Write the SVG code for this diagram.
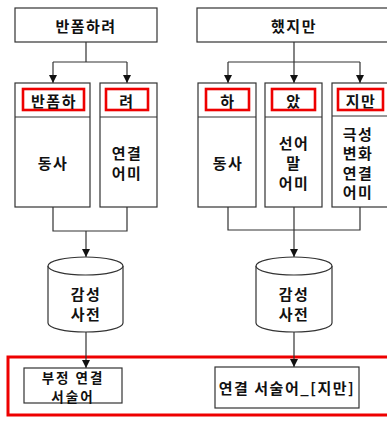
<svg xmlns="http://www.w3.org/2000/svg" width="387" height="421" viewBox="0 0 387 421">
<style>
.box{fill:#fff;stroke:#333;stroke-width:1.2}
.red{fill:none;stroke:#e00;stroke-width:2.6}
.t{font-family:"Noto Sans CJK KR","Noto Sans CJK SC",sans-serif;font-weight:bold;font-size:15px;fill:#111;text-anchor:middle;dominant-baseline:central;letter-spacing:1.5px}
.s{font-size:13.5px;letter-spacing:2px}
.c{fill:none;stroke:#333;stroke-width:1.2}
</style>
<defs>
<marker id="ah" viewBox="0 0 10 10" refX="10" refY="5" markerWidth="8" markerHeight="8" markerUnits="userSpaceOnUse" orient="auto">
<path d="M0,0 L10,5 L0,10 z" fill="#111"/>
</marker>
</defs>
<rect x="8" y="357" width="390" height="58" fill="none" stroke="#e00" stroke-width="3"/>
<g id="connectors">
<path class="c" d="M86,42 V62 M53,62 H127"/>
<path class="c" d="M53,62 V83" marker-end="url(#ah)"/>
<path class="c" d="M127,62 V83" marker-end="url(#ah)"/>
<path class="c" d="M53,207 V231 H127 V207"/>
<path class="c" d="M86,231 V257" marker-end="url(#ah)"/>
<path class="c" d="M86,332 V368" marker-end="url(#ah)"/>
<path class="c" d="M294,42 V62 M228,62 H360"/>
<path class="c" d="M228,62 V83" marker-end="url(#ah)"/>
<path class="c" d="M294,62 V83" marker-end="url(#ah)"/>
<path class="c" d="M360,62 V83" marker-end="url(#ah)"/>
<path class="c" d="M228,207 V230 H360 V207 M294,207 V230"/>
<path class="c" d="M294,230 V257" marker-end="url(#ah)"/>
<path class="c" d="M294,332 V367" marker-end="url(#ah)"/>
</g>
<g id="top-left">
<rect class="box" x="15" y="8" width="142" height="34"/>
<text class="t" x="86" y="25">반폼하려</text>
</g>
<g id="top-right">
<rect class="box" x="197" y="8" width="200" height="34"/>
<text class="t" x="294" y="25">했지만</text>
</g>
<g id="l-verb">
<rect class="box" x="15" y="83" width="75" height="124"/>
<line class="c" x1="15" y1="117" x2="90" y2="117"/>
<rect class="red" x="23" y="89" width="61" height="21"/>
<text class="t" x="54" y="100">반폼하</text>
<text class="t" x="53" y="162">동사</text>
</g>
<g id="l-ending">
<rect class="box" x="100" y="83" width="57" height="124"/>
<line class="c" x1="100" y1="117" x2="157" y2="117"/>
<rect class="red" x="106" y="89" width="42" height="21"/>
<text class="t" x="127" y="100">려</text>
<text class="t" x="127" y="152">연결</text>
<text class="t" x="127" y="172">어미</text>
</g>
<g id="r-verb">
<rect class="box" x="198" y="83" width="58" height="124"/>
<line class="c" x1="198" y1="117" x2="256" y2="117"/>
<rect class="red" x="206" y="89" width="43" height="21"/>
<text class="t" x="228" y="100">하</text>
<text class="t" x="228" y="162">동사</text>
</g>
<g id="r-pre">
<rect class="box" x="265" y="83" width="57" height="124"/>
<line class="c" x1="265" y1="117" x2="322" y2="117"/>
<rect class="red" x="272" y="89" width="43" height="21"/>
<text class="t" x="294" y="100">았</text>
<text class="t" x="294" y="142">선어</text>
<text class="t" x="294" y="162">말</text>
<text class="t" x="294" y="182">어미</text>
</g>
<g id="r-ending">
<rect class="box" x="332" y="83" width="70" height="124"/>
<line class="c" x1="332" y1="116" x2="402" y2="116"/>
<rect class="red" x="338" y="89" width="45" height="21"/>
<text class="t" x="361" y="100">지만</text>
<text class="t" x="358" y="133">극성</text>
<text class="t" x="358" y="152">변화</text>
<text class="t" x="358" y="172">연결</text>
<text class="t" x="358" y="191">어미</text>
</g>
<g id="l-dict">
<path class="box" d="M48,266 V323 A37.5,9 0 0 0 123,323 V266"/>
<ellipse class="box" cx="85.5" cy="266" rx="37.5" ry="9"/>
<text class="t" x="86" y="293">감성</text>
<text class="t" x="86" y="313">사전</text>
</g>
<g id="r-dict">
<path class="box" d="M256,266 V323 A38,9 0 0 0 332,323 V266"/>
<ellipse class="box" cx="294" cy="266" rx="38" ry="9"/>
<text class="t" x="294" y="293">감성</text>
<text class="t" x="294" y="313">사전</text>
</g>
<g id="l-result">
<rect class="box" x="24" y="368" width="98" height="35"/>
<text class="t s" x="73" y="377">부정 연결</text>
<text class="t s" x="73" y="396">서술어</text>
</g>
<g id="r-result">
<rect class="box" x="215" y="367" width="144" height="41"/>
<text class="t" x="287" y="387">연결 서술어_[지만]</text>
</g>
</svg>
